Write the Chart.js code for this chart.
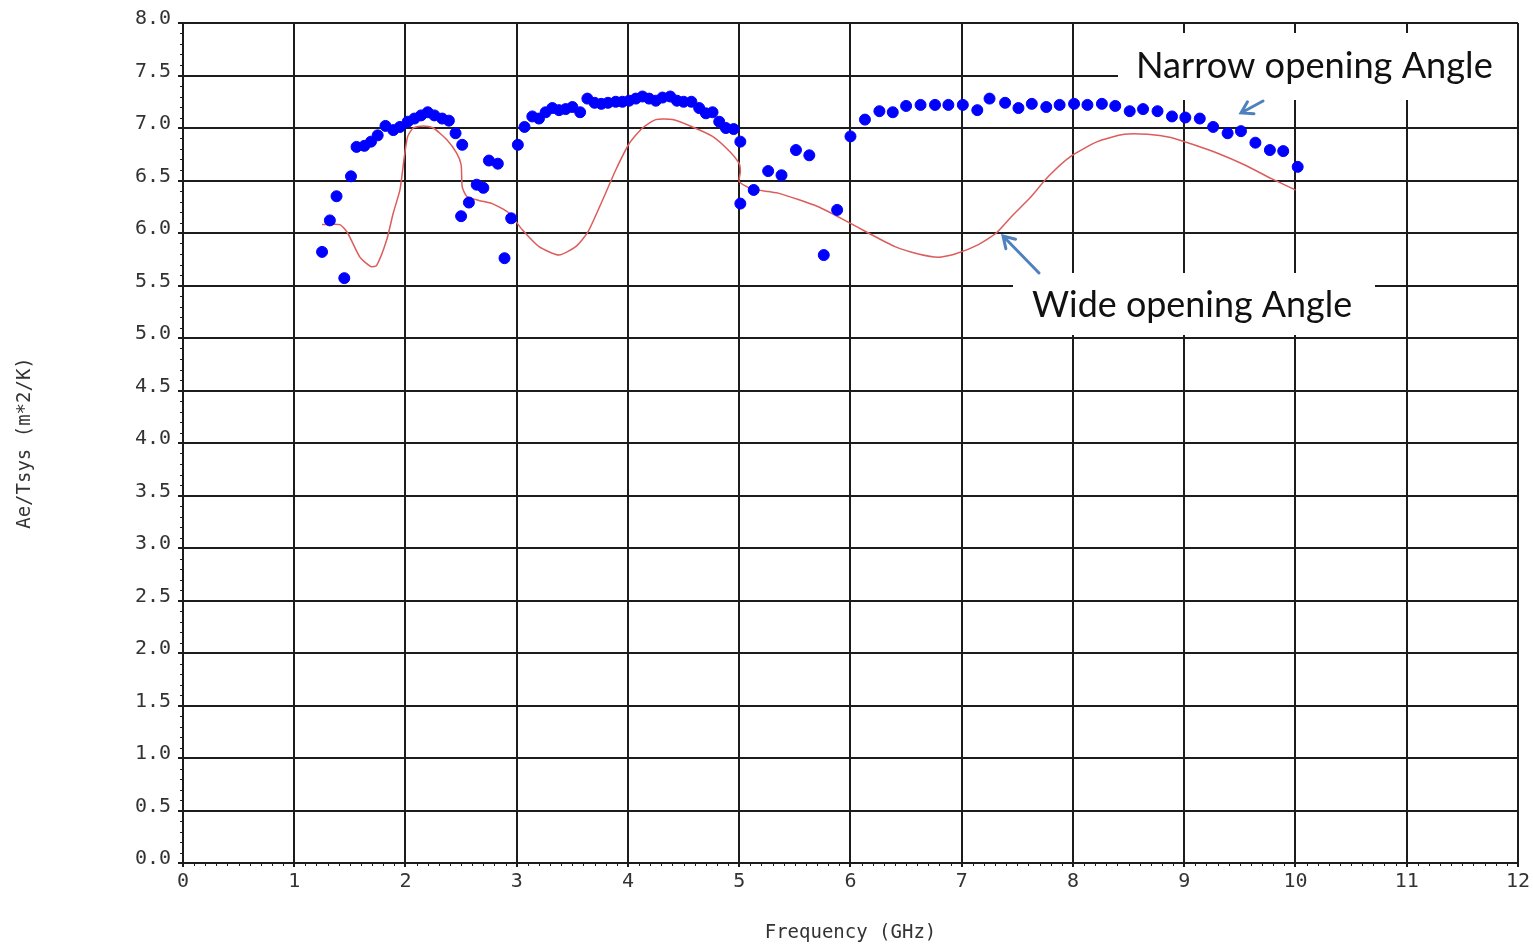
<!DOCTYPE html>
<html>
<head>
<meta charset="utf-8">
<script src="https://cdn.jsdelivr.net/npm/chart.js@4"></script>
<style>
  html, body { margin: 0; padding: 0; background: #fff; }
  canvas { display: block; }
</style>
</head>
<body>
<canvas id="myChart" width="1533" height="947"></canvas>
<script>
// narrow opening angle (blue dots)
const freqNarrow = [1.25, 1.32, 1.38, 1.45, 1.51, 1.56, 1.63, 1.69, 1.75, 1.82, 1.89, 1.95, 2.02, 2.08, 2.14, 2.20, 2.26, 2.33, 2.39, 2.45,
    2.50, 2.51, 2.57, 2.64, 2.70, 2.75, 2.83, 2.89, 2.95, 3.01, 3.07, 3.14, 3.20, 3.26, 3.32, 3.38, 3.44, 3.50, 3.57, 3.635,
    3.70, 3.76, 3.82, 3.89, 3.95, 4.01, 4.07, 4.13, 4.19, 4.25, 4.31, 4.38, 4.44, 4.50, 4.57, 4.64, 4.70, 4.76, 4.82, 4.88,
    4.95, 5.01, 5.01, 5.13, 5.26, 5.38, 5.51, 5.63, 5.76, 5.88, 6.00, 6.13, 6.26, 6.38, 6.50, 6.63, 6.76, 6.88, 7.01, 7.14,
    7.25, 7.39, 7.51, 7.63, 7.76, 7.88, 8.01, 8.13, 8.26, 8.38, 8.51, 8.63, 8.76, 8.89, 9.01, 9.14, 9.26, 9.39, 9.51, 9.64,
    9.77, 9.89, 10.02];
const aeNarrow = [5.82, 6.12, 6.35, 5.57, 6.54, 6.82, 6.83, 6.87, 6.93, 7.02, 6.98, 7.01, 7.06, 7.09, 7.12, 7.15, 7.12, 7.09, 7.07, 6.95,
    6.16, 6.84, 6.29, 6.46, 6.43, 6.69, 6.66, 5.76, 6.14, 6.84, 7.01, 7.11, 7.09, 7.15, 7.19, 7.17, 7.18, 7.20, 7.15, 7.28,
    7.24, 7.23, 7.24, 7.25, 7.25, 7.26, 7.28, 7.30, 7.28, 7.26, 7.29, 7.30, 7.26, 7.25, 7.25, 7.19, 7.14, 7.15, 7.06, 7.00,
    6.99, 6.87, 6.28, 6.41, 6.59, 6.55, 6.79, 6.74, 5.79, 6.22, 6.92, 7.08, 7.16, 7.15, 7.21, 7.22, 7.22, 7.22, 7.22, 7.17,
    7.28, 7.24, 7.19, 7.23, 7.20, 7.22, 7.23, 7.22, 7.23, 7.21, 7.16, 7.18, 7.16, 7.11, 7.10, 7.09, 7.01, 6.95, 6.97, 6.86,
    6.79, 6.78, 6.63];

// wide opening angle (red line)
const freqWide = [1.25, 1.41, 1.48, 1.59, 1.69, 1.74, 1.83, 1.89, 1.95, 1.99, 2.02, 2.07, 2.16, 2.25, 2.37, 2.46, 2.50, 2.51, 2.55, 2.66,
    2.78, 2.93, 3.05, 3.20, 3.38, 3.53, 3.64, 3.77, 3.89, 4.01, 4.13, 4.25, 4.40, 4.58, 4.76, 4.91, 5.00, 5.01, 5.00, 5.11,
    5.35, 5.71, 5.95, 6.16, 6.40, 6.61, 6.79, 6.94, 7.15, 7.31, 7.45, 7.61, 7.78, 7.98, 8.22, 8.46, 8.67, 8.88, 9.06, 9.30,
    9.54, 9.78, 10.0];
const aeWide = [6.08, 6.08, 6.00, 5.77, 5.68, 5.69, 5.93, 6.19, 6.41, 6.73, 6.92, 7.00, 7.02, 7.00, 6.89, 6.76, 6.65, 6.44, 6.35, 6.31,
    6.28, 6.19, 6.03, 5.87, 5.79, 5.87, 6.01, 6.31, 6.60, 6.85, 7.00, 7.08, 7.08, 7.01, 6.92, 6.78, 6.66, 6.58, 6.49, 6.42,
    6.38, 6.25, 6.12, 6.00, 5.87, 5.80, 5.77, 5.80, 5.89, 6.00, 6.16, 6.33, 6.54, 6.73, 6.87, 6.94, 6.94, 6.91, 6.85, 6.76,
    6.65, 6.52, 6.41];

const xTicks = [0, 1, 2, 3, 4, 5, 6, 7, 8, 9, 10, 11, 12];
const yTicks = ['0.0', '0.5', '1.0', '1.5', '2.0', '2.5', '3.0', '3.5', '4.0', '4.5', '5.0', '5.5', '6.0', '6.5', '7.0', '7.5', '8.0'];

const narrowLabel = 'Narrow opening Angle';
const wideLabel = 'Wide opening Angle';

const pixFont = '"DejaVu Sans Mono", monospace';
const gridColor = '#1c1c1c';
const arrowColor = '#4f81bd';

// white boxes under the two callouts, then text and arrows
const callouts = {
    id: 'callouts',
    beforeDatasetsDraw(chart) {
        const c = chart.ctx;
        c.save();
        c.fillStyle = '#fff';
        c.fillRect(1118, 33, 399, 67);
        c.fillRect(1013, 273, 362, 62);
        c.restore();
    },
    afterDraw(chart) {
        const c = chart.ctx;
        c.save();
        // minor ticks
        const xs = chart.scales.x, ys = chart.scales.y;
        c.strokeStyle = gridColor;
        c.lineWidth = 1;
        c.beginPath();
        for (let i = 0; i <= 80; i++) {
            const py = Math.round(ys.getPixelForValue(i / 10)) + 0.5;
            c.moveTo(xs.left - 3, py);
            c.lineTo(xs.left, py);
        }
        for (let i = 0; i <= 120; i++) {
            const px = Math.round(xs.getPixelForValue(i / 10)) + 0.5;
            c.moveTo(px, ys.bottom);
            c.lineTo(px, ys.bottom + 3);
        }
        c.stroke();

        // text
        c.fillStyle = '#111';
        c.textBaseline = 'alphabetic';
        c.textAlign = 'left';
        const fit = (txt, w) => {
            c.font = '32px Lato';
            return 32 * w / c.measureText(txt).width;
        };
        let fs = fit(narrowLabel, 357);
        c.font = fs.toFixed(1) + 'px Lato';
        c.fillText(narrowLabel, 1136, 78);
        fs = fit(wideLabel, 320);
        c.font = fs.toFixed(1) + 'px Lato';
        c.fillText(wideLabel, 1032, 317);

        // arrows
        const arrow = (x1, y1, x2, y2) => {
            const a = Math.atan2(y2 - y1, x2 - x1);
            const h = 13;
            c.strokeStyle = arrowColor;
            c.lineWidth = 3;
            c.lineCap = 'round';
            c.beginPath();
            c.moveTo(x1, y1);
            c.lineTo(x2, y2);
            c.moveTo(x2 - h * Math.cos(a - 0.55), y2 - h * Math.sin(a - 0.55));
            c.lineTo(x2, y2);
            c.lineTo(x2 - h * Math.cos(a + 0.55), y2 - h * Math.sin(a + 0.55));
            c.stroke();
        };
        arrow(1263, 101, 1241, 113);
        arrow(1039, 273, 1003, 236);
        c.restore();
    }
};

const ctx = document.getElementById('myChart');
const myChart = new Chart(ctx, {
    type: 'scatter',
    data: {
        datasets: [{
            label: narrowLabel,
            data: freqNarrow.map((f, i) => ({x: f, y: aeNarrow[i]})),
            backgroundColor: '#0000ff',
            borderColor: '#0000ff',
            pointRadius: 5.5,
            pointHoverRadius: 5.5,
            showLine: false
        }, {
            label: wideLabel,
            data: freqWide.map((f, i) => ({x: f, y: aeWide[i]})),
            borderColor: '#dd5c5c',
            borderWidth: 1.5,
            pointRadius: 0,
            showLine: true,
            tension: 0.2
        }]
    },
    options: {
        responsive: false,
        animation: false,
        layout: {
            padding: {left: 0, right: 12, top: 23, bottom: 0}
        },
        scales: {
            x: {
                type: 'linear',
                min: 0,
                max: 12,
                afterFit: s => { s.height = 84; },
                afterBuildTicks: s => { s.ticks = xTicks.map(v => ({value: v})); },
                grid: {
                    color: gridColor,
                    lineWidth: 2,
                    tickLength: 4
                },
                border: {color: gridColor, width: 2},
                ticks: {
                    color: '#333',
                    font: {family: pixFont, size: 20},
                    padding: 3,
                    maxRotation: 0
                },
                title: {
                    display: true,
                    text: 'Frequency (GHz)',
                    color: '#333',
                    font: {family: pixFont, size: 19},
                    padding: {top: 0, bottom: 3}
                }
            },
            y: {
                type: 'linear',
                min: 0,
                max: 8,
                afterFit: s => { s.width = 183; },
                afterBuildTicks: s => { s.ticks = yTicks.map(v => ({value: parseFloat(v)})); },
                grid: {
                    color: gridColor,
                    lineWidth: 2,
                    tickLength: 5
                },
                border: {color: gridColor, width: 2},
                ticks: {
                    color: '#333',
                    font: {family: pixFont, size: 20},
                    padding: 7,
                    labelOffset: -4,
                    callback: (v) => yTicks.find(t => parseFloat(t) === v)
                },
                title: {
                    display: true,
                    text: 'Ae/Tsys (m*2/K)',
                    color: '#333',
                    font: {family: pixFont, size: 19},
                    padding: {top: 14, bottom: 0}
                }
            }
        },
        plugins: {
            legend: {display: false},
            tooltip: {enabled: false}
        }
    },
    plugins: [callouts]
});
</script>
</body>
</html>
